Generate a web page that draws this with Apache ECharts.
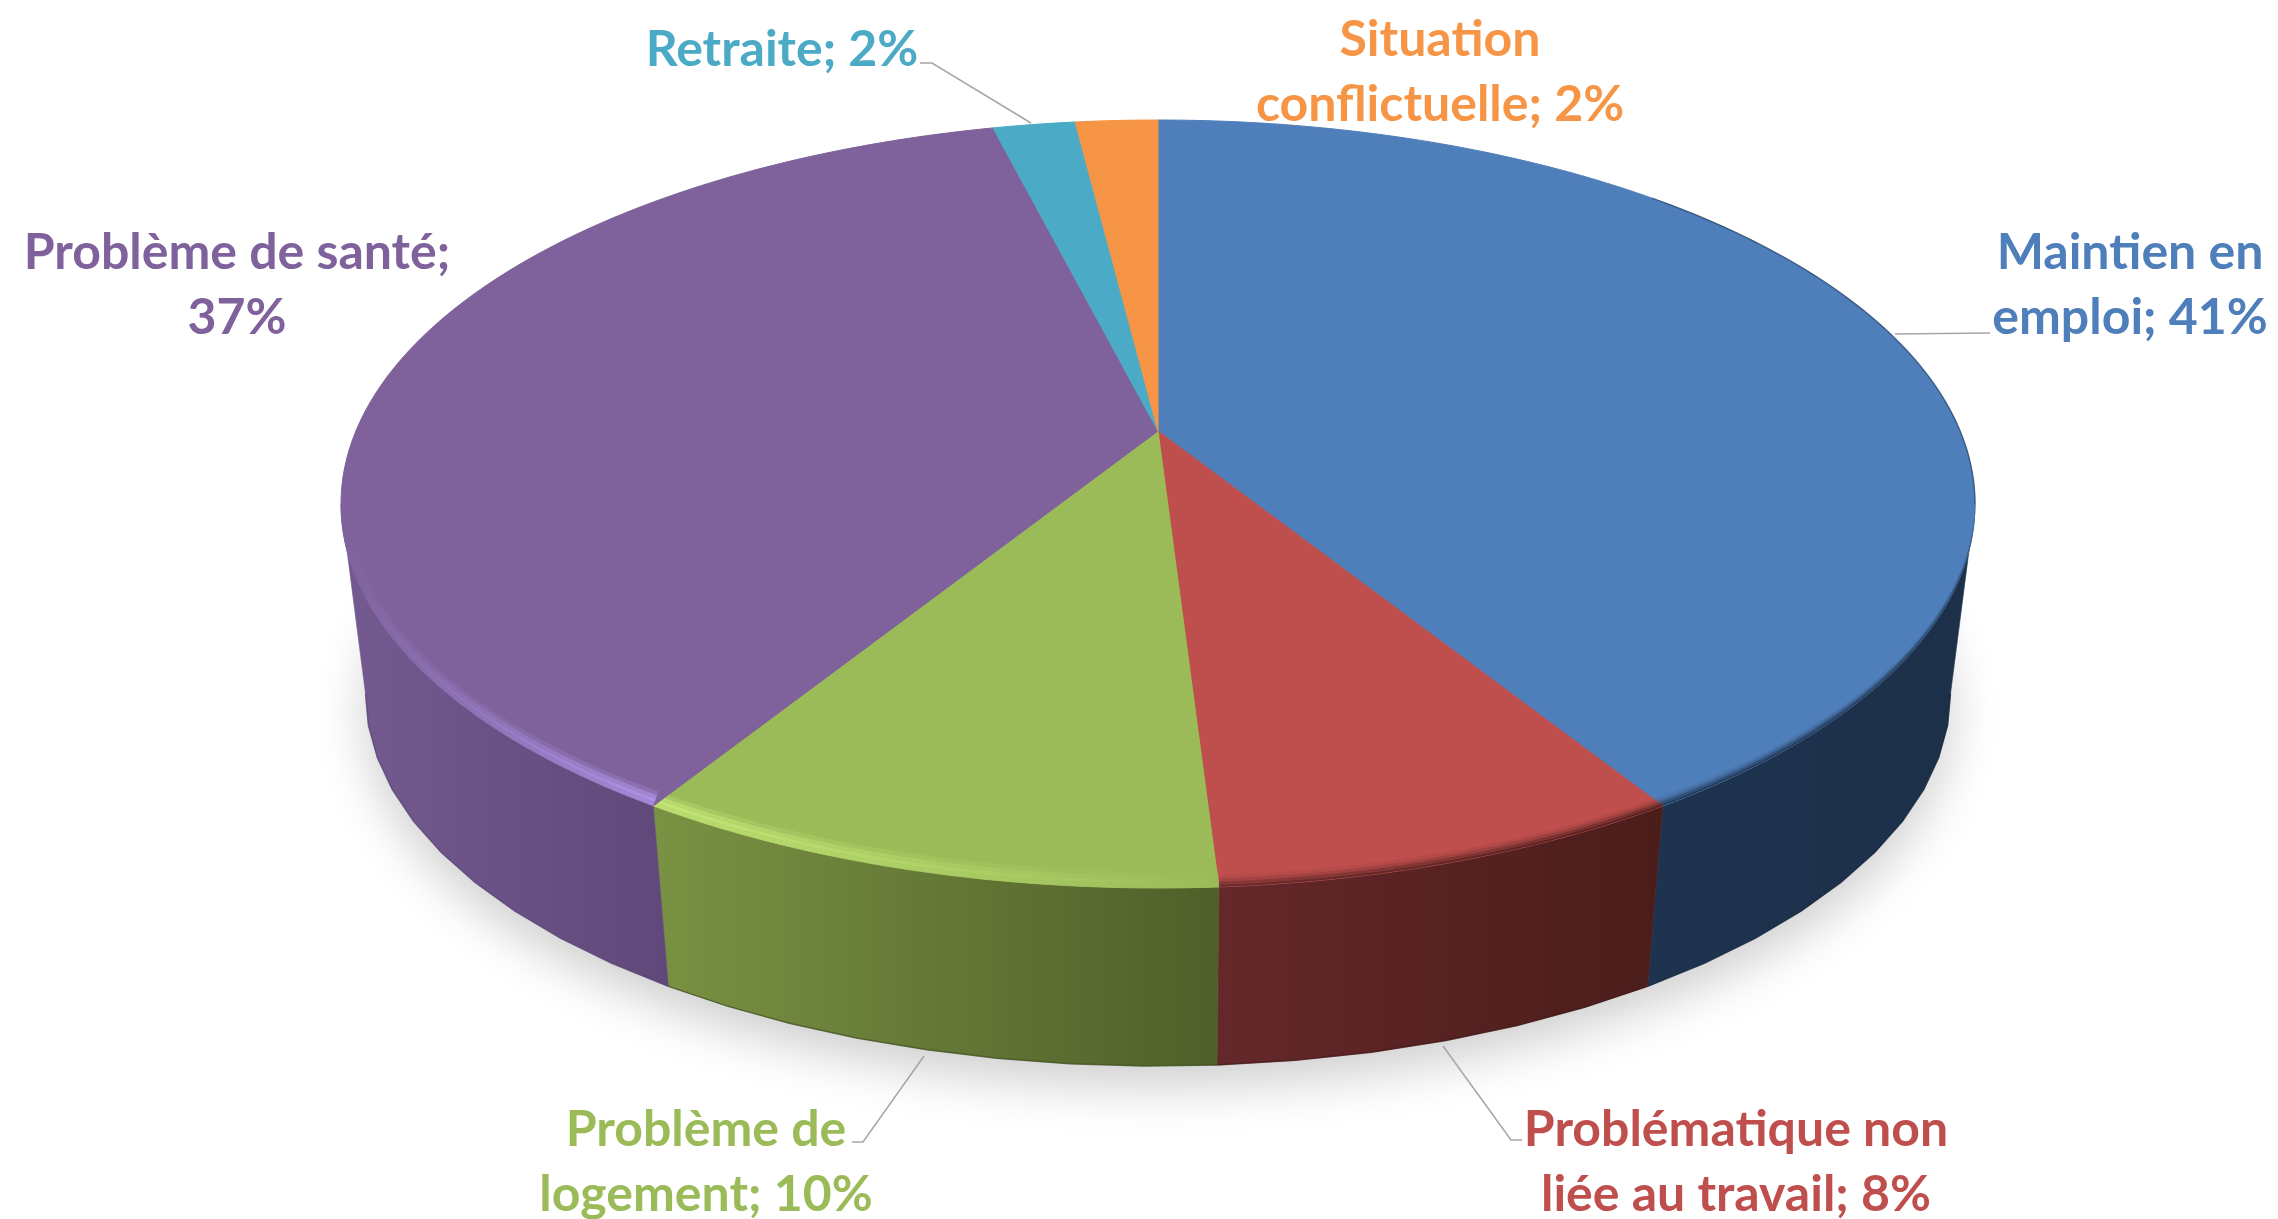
<!DOCTYPE html>
<html><head><meta charset="utf-8">
<style>html,body{margin:0;padding:0;background:#fff}#c{width:2278px;height:1219px}</style>
<script src="https://cdn.jsdelivr.net/npm/echarts@6/dist/echarts.min.js"></script>
</head><body><div id="c"></div>
<script>
// ---- data ----
const categories = ['Maintien en emploi','Problématique non liée au travail','Problème de logement','Problème de santé','Retraite','Situation conflictuelle'];
const values = [41, 8, 10, 37, 2, 2];
const labelTexts = ['Maintien en\nemploi; 41%','Problématique non\nliée au travail; 8%','Problème de\nlogement; 10%','Problème de santé;\n37%','Retraite; 2%','Situation\nconflictuelle; 2%'];
// ---- styles ----
const faceColors = ['#4F7FBA','#BF4F4D','#9BBB59','#7F629C','#4BAAC5','#F59545'];
const wallLeft  = ['#1E3350','#65282A','#7A9243','#735A90','#2F7F96','#B86A28'];
const wallRight = ['#1D3049','#4A1D1A','#4F5F29','#60487A','#24687C','#9A5820'];
const wallEdge  = ['#17273C','#3E1715','#3F4E1F','#5A4474','#1E5566','#7C4618'];
const rimLeft   = ['#1E3350','#65282A','#C2E675','#7F629C','#4BAAC5','#F59545'];
const rimRight  = ['#1D3049','#4A1D1A','#9BBB59','#AE92E6','#4BAAC5','#F59545'];
const rimLight  = [false,false,true,true,false,false];
const labelAnchors = [[2130,285],[1736,1162],[706,1162],[237,285],[782,50],[1440,72]];
const leaderLines = [
  [[1895,334],[1990,333]],
  [[1443,1046],[1511,1140],[1522,1140]],
  [[924,1056],[863,1142],[852,1142]],
  null,
  [[1031,123],[932,63],[920,63]],
  null
];
// ---- projection of the tilted disc ----
const AX=1158, AY=431, EY=504, RX=817, RY=384;
const HC=-0.19, HA=288.2, HD=785, SHRINK=0.97, VY=6820;
const total = values.reduce((a,b)=>a+b,0);
const angleOf = f => f/total*2*Math.PI;
const RAD=Math.PI/180;
function rimPoint(t){
  const X=Math.sin(t), Y=-Math.cos(t), w=1+HC*Y;
  const dx=X*HD/w, dy=(HA*Y+AY)/w-AY, oy=AY-EY;
  const A=dx*dx/(RX*RX)+dy*dy/(RY*RY), B=2*dy*oy/(RY*RY), C=oy*oy/(RY*RY)-1;
  const k=(-B+Math.sqrt(B*B-4*A*C))/(2*A);
  return [AX+k*dx, AY+k*dy];
}
const floorPoint = p => [AX+SHRINK*(p[0]-AX), VY+SHRINK*(p[1]-VY)];
function arc(t0,t1,step){
  const n=Math.max(1,Math.ceil((t1-t0)/step)), out=[];
  for(let i=0;i<=n;i++) out.push(rimPoint(t0+(t1-t0)*i/n));
  return out;
}
function sliceRange(i){
  let s=0; for(let k=0;k<i;k++) s+=values[k];
  return [angleOf(s), angleOf(s+values[i])];
}
// angles of the rightmost and leftmost points of the disc: the wall is visible between them
let T_R=0, T_L=0;
for(let d=0,xr=-1e9,xl=1e9;d<360;d+=0.25){
  const x=rimPoint(d*RAD)[0];
  if(x>xr){xr=x;T_R=d*RAD;}
  if(x<xl){xl=x;T_L=d*RAD;}
}
const hGrad=(x0,x1,c0,c1)=>({type:'linear',x:x0,y:0,x2:x1,y2:0,global:true,colorStops:[{offset:0,color:c0},{offset:1,color:c1}]});

function renderShadow(){
  const base=arc(0,2*Math.PI,3*RAD).map(floorPoint).map(p=>[p[0],p[1]-6]);
  return {type:'polygon',shape:{points:base},style:{fill:'#d9d9d9',shadowBlur:50,shadowOffsetY:26,shadowColor:'#cfcfcf'},silent:true};
}
function renderWall(params,api){
  const i=params.dataIndex; api.value(0);
  const [s0,s1]=sliceRange(i);
  const t0=Math.max(s0,T_R), t1=Math.min(s1,T_L);
  if(t0>=t1) return {type:'group',children:[]};
  const top=arc(t0,t1,1*RAD), bot=arc(t0,t1,5*RAD).map(floorPoint);
  const xs=top.concat(bot).map(p=>p[0]), x0=Math.min(...xs), x1=Math.max(...xs);
  return {type:'group',children:[
    {type:'polygon',shape:{points:top.concat(bot.slice().reverse())},style:{fill:hGrad(x0,x1,wallLeft[i],wallRight[i]),stroke:hGrad(x0,x1,wallLeft[i],wallRight[i]),lineWidth:0.6}},
    {type:'polyline',shape:{points:bot},style:{stroke:wallEdge[i],lineWidth:1.5,opacity:0.7,fill:null}}
  ]};
}
function renderFace(params,api){
  const i=params.dataIndex; api.value(0);
  const [s0,s1]=sliceRange(i);
  const children=[{type:'polygon',shape:{points:[[AX,AY]].concat(arc(s0,s1,1*RAD))},
    style:{fill:faceColors[i],stroke:faceColors[i],lineWidth:1}}];
  const a=Math.max(s0,T_R), b=Math.min(s1,T_L);
  if(a<b){
    const pts=arc(a,b,1*RAD), xs=pts.map(p=>p[0]), x0=Math.min(...xs), x1=Math.max(...xs);
    // soft bevel between the top face and the wall
    const offsets=rimLight[i]?[17,12.5,8.5,4.5,0]:[12,8.5,5.5,2.5,0];
    const alphas=rimLight[i]?[0.3,0.75,1,0.8]:[0.1,0.3,0.6,0.9];
    const sxs=rimLight[i]?[0.990,0.992,0.995,0.9975,1]:[1,1,1,1,1];
    const band=(p,k)=>[AX+sxs[k]*(p[0]-AX),p[1]-offsets[k]*(p[1]-AY+80)/(888-AY+80)];
    for(let k=0;k<4;k++){
      const outer=pts.map(p=>band(p,k+1)), inner=pts.map(p=>band(p,k)).reverse();
      children.push({type:'polygon',shape:{points:outer.concat(inner)},
        style:{fill:hGrad(x0,x1,rimLeft[i],rimRight[i]),opacity:alphas[k]}});
    }
  }
  // thin dark outline on the upper right of the first slice
  if(s0<T_R){
    children.push({type:'polyline',shape:{points:arc(Math.max(s0,45*RAD),Math.min(s1,T_R),1*RAD)},
      style:{stroke:rimLeft[i],lineWidth:1.5,opacity:0.5,fill:null}});
  }
  return {type:'group',children};
}
function renderLabel(params,api){
  const i=params.dataIndex; api.value(0);
  const children=[];
  if(leaderLines[i]) children.push({type:'polyline',shape:{points:leaderLines[i]},style:{stroke:'#A6A6A6',lineWidth:1.5,fill:null}});
  children.push({type:'text',style:{x:labelAnchors[i][0],y:labelAnchors[i][1],text:labelTexts[i],
    fill:faceColors[i],font:'bold 50px Lato, "Open Sans", sans-serif',lineHeight:65,align:'center',verticalAlign:'middle'}});
  return {type:'group',children};
}
const seriesData=categories.map((n,i)=>({name:n,value:values[i]}));
const chart=echarts.init(document.getElementById('c'),null,{renderer:'canvas'});
chart.setOption({
  animation:false,backgroundColor:'#fff',tooltip:{show:false},
  series:[
    {type:'custom',coordinateSystem:'none',renderItem:renderShadow,data:[{name:'shadow',value:0}],z:1,silent:true},
    {type:'custom',coordinateSystem:'none',renderItem:renderWall,data:seriesData,z:2,silent:true},
    {type:'custom',coordinateSystem:'none',renderItem:renderFace,data:seriesData,z:3,silent:true},
    {type:'custom',coordinateSystem:'none',renderItem:renderLabel,data:seriesData,z:4,silent:true}
  ]
});
</script></body></html>
